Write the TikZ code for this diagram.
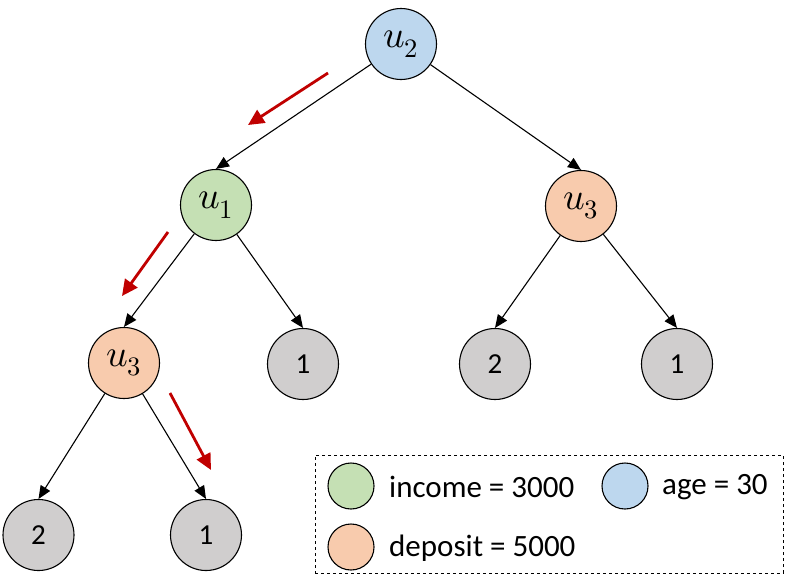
\documentclass[tikz,border=0pt]{standalone}
\usepackage{fontspec}
\usepackage{unicode-math}
\setmainfont{Carlito}
\setmathfont{Latin Modern Math}
\usetikzlibrary{arrows.meta}
\definecolor{cblue}{HTML}{BDD7EE}
\definecolor{cgreen}{HTML}{C5E0B4}
\definecolor{corange}{HTML}{F8CBAD}
\definecolor{cgray}{HTML}{D0CECE}
\definecolor{cred}{RGB}{192,0,0}
\begin{document}
\begin{tikzpicture}[x=1pt,y=-1pt,
  tnode/.style={circle,draw=black,line width=1.1pt,minimum size=71pt,inner sep=0pt,font=\fontsize{29}{31}\selectfont},
  unode/.style={tnode,font=\fontsize{38}{40}\selectfont},
  lnode/.style={circle,draw=black,line width=1.1pt,minimum size=46pt,inner sep=0pt},
  edge/.style={line width=1.1pt,-{Triangle[length=13pt,width=11pt]}},
  path/.style={cred,line width=2.8pt,-{Triangle[length=16pt,width=15pt]}},
  ltext/.style={anchor=west,font=\fontsize{31}{33}\selectfont,inner sep=0pt}]
\useasboundingbox (0,0) rectangle (789,582);
\node[unode,fill=cblue] (u2) at (401,44) {$u_2$};
\node[unode,fill=cgreen] (u1) at (216,205) {$u_1$};
\node[unode,fill=corange] (u3r) at (581,206) {$u_3$};
\node[unode,fill=corange] (u3l) at (124,363) {$u_3$};
\node[tnode,fill=cgray] (n1m) at (303,364) {1};
\node[tnode,fill=cgray] (n2r) at (495,364) {2};
\node[tnode,fill=cgray] (n1r) at (677,364) {1};
\node[tnode,fill=cgray] (n2b) at (38.5,535) {2};
\node[tnode,fill=cgray] (n1b) at (206,535) {1};
\draw[edge] (u2) -- (u1.north);
\draw[edge] (u2) -- (u3r.north);
\draw[edge] (u1) -- (u3l.north);
\draw[edge] (u1) -- (n1m.north);
\draw[edge] (u3r) -- (n2r.north);
\draw[edge] (u3r) -- (n1r.north);
\draw[edge] (u3l) -- (n2b.north);
\draw[edge] (u3l) -- (n1b.north);
\coordinate (r1a) at (328,73); \coordinate (r1b) at (248,125);
\coordinate (r2a) at (168,232); \coordinate (r2b) at (122,296);
\coordinate (r3a) at (170,393); \coordinate (r3b) at (211,470);
\draw[path] (r1a) -- (r1b);
\draw[path] (r2a) -- (r2b);
\draw[path] (r3a) -- (r3b);
\node[draw=black,dashed,line width=1pt,minimum width=468pt,minimum height=118pt,inner sep=0pt] (legend) at (549,514) {};
\node[lnode,fill=cgreen] (lg) at (351,486) {};
\node[lnode,fill=cblue] (lb) at (625,486) {};
\node[lnode,fill=corange] (lo) at (351,547) {};
\node[ltext] (tg) at (389,487) {income = 3000};
\node[ltext] (tb) at (662,487) {age = 30};
\node[ltext] (to) at (389,548) {deposit = 5000};
\end{tikzpicture}
\end{document}
